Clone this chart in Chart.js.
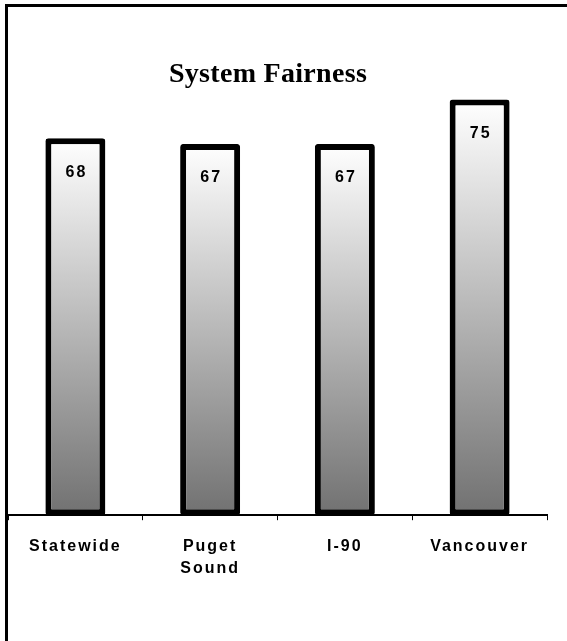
<!DOCTYPE html>
<html>
<head>
<meta charset="utf-8">
<title>System Fairness</title>
<script src="https://cdn.jsdelivr.net/npm/chart.js@4.4.1/dist/chart.umd.min.js"></script>
<style>
  html, body { margin: 0; padding: 0; background: #fff; }
  #wrap { position: relative; width: 567px; height: 641px; overflow: hidden; }
  #frame {
    position: absolute; left: 5px; top: 4px; width: 700px; height: 800px;
    border-left: 3px solid #000; border-top: 3px solid #000;
    pointer-events: none;
  }
  #fairnessChart { position: absolute; left: 0; top: 0; }
</style>
</head>
<body>
<div id="wrap">
  <canvas id="fairnessChart" width="567" height="641"></canvas>
  <div id="frame"></div>
</div>
<script>
// Chart data
const chartTitle = 'System Fairness';
const regions = ['Statewide', ['Puget', 'Sound'], 'I-90', 'Vancouver'];
const fairnessScores = [68, 67, 67, 75];
const axisMin = 0;
const axisMax = 76;

// Old slide export look: spaced-out letters on the Arial texts
const letterGap = '2px';

// Gradient per bar, white at its top down to dark gray at the axis
function barGradient(context) {
  const chart = context.chart;
  const yScale = chart.scales.y;
  if (!chart.chartArea || !yScale) {
    return '#bbbbbb';
  }
  const top = yScale.getPixelForValue(context.raw);
  const bottom = yScale.getPixelForValue(0);
  const g = chart.ctx.createLinearGradient(0, top, 0, bottom);
  g.addColorStop(0, '#ffffff');
  g.addColorStop(1, '#717171');
  return g;
}

// Letter spacing on for labels, off again at the end
const spacingPlugin = {
  id: 'spacing',
  beforeDraw(chart) {
    chart.ctx.letterSpacing = letterGap;
  },
  afterDraw(chart) {
    chart.ctx.letterSpacing = '0px';
  }
};

// Value printed inside each bar near its top
const valueLabelPlugin = {
  id: 'valueLabels',
  afterDatasetsDraw(chart) {
    const ctx = chart.ctx;
    const meta = chart.getDatasetMeta(0);
    ctx.save();
    ctx.font = 'bold 16px "Liberation Sans", Arial, sans-serif';
    ctx.fillStyle = '#000';
    ctx.textAlign = 'center';
    ctx.textBaseline = 'middle';
    meta.data.forEach(function(bar, i) {
      ctx.fillText(String(fairnessScores[i]), bar.x + 1, bar.y + 34);
    });
    ctx.restore();
  }
};

// Title drawn a little left of centre, like the original slide
const slideTitlePlugin = {
  id: 'slideTitle',
  afterDraw(chart) {
    const ctx = chart.ctx;
    ctx.save();
    ctx.font = 'bold 28px "Liberation Serif", "Times New Roman", serif';
    ctx.letterSpacing = '0.3px';
    ctx.fillStyle = '#000';
    ctx.textAlign = 'center';
    ctx.textBaseline = 'alphabetic';
    ctx.fillText(chartTitle, 268, 82);
    ctx.restore();
  }
};

function initializeChart() {
  const ctx = document.getElementById('fairnessChart');
  if (typeof Chart === 'undefined' || !ctx) {
    console.error('Chart.js or canvas missing');
    return;
  }

  new Chart(ctx, {
    type: 'bar',
    data: {
      labels: regions,
      datasets: [{
        label: chartTitle,
        data: fairnessScores,
        backgroundColor: barGradient,
        borderColor: '#000000',
        borderWidth: 6,
        borderRadius: 3,
        borderSkipped: false,
        barPercentage: 0.445,
        categoryPercentage: 1
      }]
    },
    options: {
      responsive: false,
      animation: false,
      layout: {
        padding: { top: 94, left: 8, right: 20, bottom: 46 }
      },
      plugins: {
        legend: { display: false },
        title: { display: false },
        tooltip: { enabled: false }
      },
      scales: {
        x: {
          grid: {
            display: true,
            drawOnChartArea: false,
            drawTicks: true,
            tickLength: 5,
            color: '#000000',
            lineWidth: 1
          },
          border: { display: true, color: '#000000', width: 2 },
          ticks: {
            color: '#000000',
            padding: 15,
            maxRotation: 0,
            autoSkip: false,
            font: { family: '"Liberation Sans", Arial, sans-serif', size: 16, weight: 'bold', lineHeight: 1.4 }
          }
        },
        y: {
          display: false,
          min: axisMin,
          max: axisMax
        }
      }
    },
    plugins: [spacingPlugin, valueLabelPlugin, slideTitlePlugin]
  });
}

document.addEventListener('DOMContentLoaded', initializeChart);
</script>
</body>
</html>
